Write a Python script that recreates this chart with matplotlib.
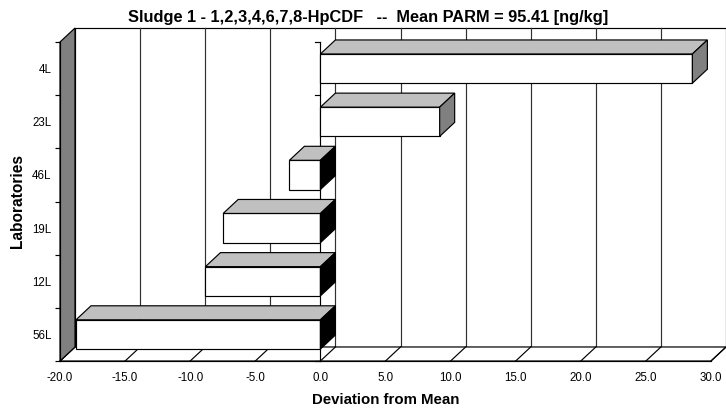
"""Sludge 1 deviation chart, Excel style 3D horizontal bars."""
import matplotlib
matplotlib.use("Agg")
import matplotlib.pyplot as plt
from matplotlib.patches import Polygon, Rectangle

plt.rcParams["font.family"] = ["Liberation Sans", "DejaVu Sans"]

# data, top to bottom as shown
labs = ["4L", "23L", "46L", "19L", "12L", "56L"]
dev = [28.57, 9.16, -2.38, -7.47, -8.83, -18.77]
xticks = [-20, -15, -10, -5, 0, 5, 10, 15, 20, 25, 30]

title = "Sludge 1 - 1,2,3,4,6,7,8-HpCDF   --  Mean PARM = 95.41 [ng/kg]"

W, H = 726, 409
X0, X1 = 60, 711      # front plane, pixels
Y0, Y1 = 42, 361
DEPTH_PX = (15, 14)   # 3d offset to the back wall
BAR_H = 0.55

fig = plt.figure(figsize=(W / 100, H / 100), dpi=100)
ax = fig.add_axes([X0 / W, 1 - Y1 / H, (X1 - X0) / W, (Y1 - Y0) / H])
xmin, xmax = xticks[0], xticks[-1]
n = len(labs)
ax.set_xlim(xmin, xmax)
ax.set_ylim(n - 0.5, -0.5)
ax.patch.set_visible(False)

# depth in data units
dx = DEPTH_PX[0] * (xmax - xmin) / (X1 - X0)
dy = DEPTH_PX[1] * n / (Y1 - Y0)
ybot, ytop = n - 0.5, -0.5
lw = 0.85


def poly(pts, fc, z):
    ax.add_patch(Polygon(pts, closed=True, facecolor=fc, edgecolor="black",
                         linewidth=lw, zorder=z, clip_on=False))


# back wall + gridlines
ax.add_patch(Rectangle((xmin + dx, ytop - dy), xmax - xmin, ybot - ytop,
                       facecolor="white", edgecolor="black", linewidth=lw,
                       zorder=0.5, clip_on=False))
for t in xticks[1:-1]:
    ax.plot([t + dx, t + dx], [ybot - dy, ytop - dy], color="#303030",
            linewidth=lw, zorder=0.6, clip_on=False)

# floor with the diagonal tick lines
poly([(xmin, ybot), (xmax, ybot), (xmax + dx, ybot - dy), (xmin + dx, ybot - dy)],
     "white", 0.7)
for t in xticks:
    ax.plot([t, t + dx], [ybot, ybot - dy], color="black", linewidth=lw,
            zorder=0.75, clip_on=False)

# left wall
poly([(xmin, ybot), (xmin, ytop), (xmin + dx, ytop - dy), (xmin + dx, ybot - dy)],
     "#808080", 0.8)

# category axis at zero with its ticks
tick_u = 5 * (xmax - xmin) / (X1 - X0)
ax.plot([0, 0], [ybot, ytop], color="black", linewidth=lw, zorder=0.9,
        clip_on=False)
for b in range(n + 1):
    ax.plot([-tick_u, 0], [b - 0.5, b - 0.5], color="black", linewidth=lw,
            zorder=0.9, clip_on=False)

# bars
for i, v in enumerate(dev):
    top = i - BAR_H / 2
    bot = i + BAR_H / 2
    ax.barh(i, v, height=BAR_H, left=0, color="white", edgecolor="black",
            linewidth=lw, zorder=3)
    poly([(0, top), (v, top), (v + dx, top - dy), (dx, top - dy)], "#c0c0c0", 3)
    end = max(v, 0)
    poly([(end, top), (end, bot), (end + dx, bot - dy), (end + dx, top - dy)],
         "#808080" if v > 0 else "black", 3)

# axes styling
for s in ["top", "right"]:
    ax.spines[s].set_visible(False)
for s in ["left", "bottom"]:
    ax.spines[s].set_linewidth(lw)
ax.set_xticks(xticks)
ax.set_xticklabels([f"{t:.1f}" for t in xticks], fontsize=8.3)
ax.tick_params(axis="x", length=0, pad=8)
ax.set_yticks(range(n))
ax.set_yticklabels(labs, fontsize=8.3)
ax.set_yticks([b - 0.5 for b in range(n + 1)], minor=True)
ax.tick_params(axis="y", which="major", length=0, pad=6)
ax.tick_params(axis="y", which="minor", length=3.6, width=lw, direction="out")

fig.text(368 / W, 1 - 22 / H, title, ha="center", va="baseline",
         fontsize=11.8, fontweight="bold")
fig.text((X0 + X1) / 2 / W, 1 - 404 / H, "Deviation from Mean", ha="center",
         va="baseline", fontsize=10.8, fontweight="bold")
fig.text(18 / W, 1 - (Y0 + Y1) / 2 / H, "Laboratories", ha="center",
         va="center", rotation=90, fontsize=11.2, fontweight="bold")

fig.savefig("out.png", dpi=100, facecolor="white")
